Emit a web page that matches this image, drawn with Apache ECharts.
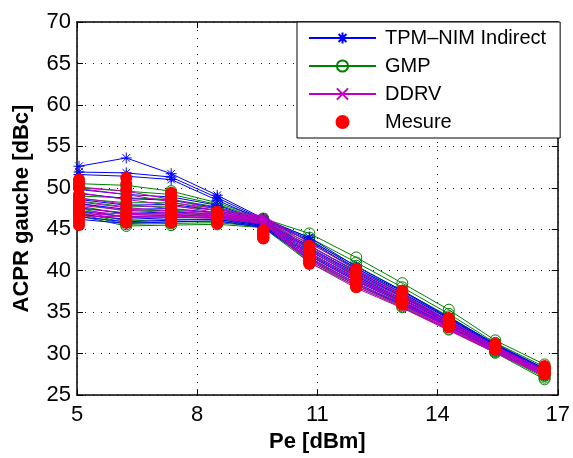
<!DOCTYPE html>
<html>
<head>
<meta charset="utf-8">
<script src="https://cdn.jsdelivr.net/npm/echarts@6/dist/echarts.min.js"></script>
<style>
html,body{margin:0;padding:0;background:#fff;}
#chart{width:573px;height:458px;}
</style>
</head>
<body>
<div id="chart"></div>
<script>
// Input power positions (dBm)
const xPe = [5.05, 6.23, 7.35, 8.5, 9.65, 10.8, 11.97, 13.12, 14.28, 15.44, 16.67];
const xTicks = [5, 8, 11, 14, 17];
const yTicks = [25, 30, 35, 40, 45, 50, 55, 60, 65, 70];

// TPM-NIM Indirect curves
const tpmCurves = [
  [52.6, 53.6, 51.7, 49.1, 46.3, 44.0, 40.5, 37.6, 34.4, 31.2, 28.2],
  [51.9, 51.8, 51.3, 48.8, 46.2, 43.8, 40.3, 37.5, 34.3, 31.1, 28.1],
  [51.6, 51.4, 51.0, 48.5, 46.1, 43.6, 40.1, 37.3, 34.2, 31.0, 28.0],
  [49.8, 49.2, 48.9, 47.9, 46.0, 43.0, 39.9, 37.1, 34.0, 30.9, 27.9],
  [49.3, 48.7, 48.5, 47.6, 45.9, 42.8, 39.7, 36.9, 33.9, 30.8, 27.9],
  [48.6, 47.9, 48.0, 47.3, 45.8, 42.6, 39.5, 36.8, 33.8, 30.8, 27.8],
  [48.1, 47.4, 47.5, 47.0, 45.7, 42.4, 39.3, 36.6, 33.7, 30.7, 27.8],
  [47.6, 46.9, 47.1, 46.8, 45.6, 42.2, 39.1, 36.5, 33.6, 30.7, 27.7],
  [47.2, 46.5, 46.7, 46.6, 45.5, 42.0, 38.9, 36.3, 33.5, 30.6, 27.7],
  [46.8, 46.2, 46.4, 46.4, 45.4, 41.8, 38.7, 36.2, 33.4, 30.6, 27.6],
  [46.5, 45.9, 46.1, 46.2, 45.3, 41.6, 38.5, 36.0, 33.3, 30.5, 27.6],
  [46.2, 45.7, 45.9, 46.0, 45.2, 41.4, 38.3, 35.9, 33.2, 30.5, 27.5]
];

// GMP curves
const gmpCurves = [
  [50.5, 50.3, 49.6, 48.2, 46.3, 44.5, 41.6, 38.5, 35.3, 31.6, 28.7],
  [50.0, 49.6, 49.2, 48.0, 46.2, 44.0, 41.0, 38.0, 34.8, 31.3, 28.4],
  [49.0, 48.8, 48.6, 47.7, 46.1, 43.6, 40.6, 37.6, 34.5, 31.1, 28.2],
  [48.7, 48.2, 48.2, 47.5, 46.0, 43.3, 40.3, 37.3, 34.2, 30.9, 28.0],
  [48.4, 47.7, 47.8, 47.3, 45.9, 43.0, 40.0, 37.0, 34.0, 30.8, 27.8],
  [48.1, 47.2, 47.3, 47.0, 45.8, 42.7, 39.7, 36.8, 33.8, 30.7, 27.7],
  [47.8, 46.8, 46.9, 46.7, 45.7, 42.4, 39.4, 36.6, 33.6, 30.6, 27.6],
  [47.5, 46.4, 46.5, 46.4, 45.6, 42.1, 39.1, 36.3, 33.4, 30.5, 27.5],
  [47.2, 46.0, 46.2, 46.2, 45.5, 41.8, 38.8, 36.1, 33.3, 30.4, 27.4],
  [47.0, 45.8, 45.9, 46.0, 45.4, 41.5, 38.5, 35.9, 33.2, 30.3, 27.3],
  [46.8, 45.6, 45.7, 45.8, 45.3, 41.2, 38.3, 35.7, 33.0, 30.2, 27.1],
  [46.6, 45.4, 45.5, 45.6, 45.2, 41.0, 38.1, 35.6, 32.9, 30.1, 26.9]
];

// DDRV curves
const ddrvCurves = [
  [50.1, 49.6, 48.6, 47.4, 46.6, 43.4, 40.1, 37.2, 34.0, 30.9, 28.0],
  [49.9, 49.2, 48.3, 47.2, 46.5, 43.1, 39.8, 37.0, 33.8, 30.8, 27.9],
  [49.4, 48.6, 47.9, 47.0, 46.4, 42.8, 39.5, 36.8, 33.7, 30.7, 27.8],
  [48.8, 48.0, 47.5, 46.9, 46.3, 42.5, 39.2, 36.6, 33.5, 30.6, 27.7],
  [48.3, 47.6, 47.2, 46.8, 46.2, 42.2, 39.0, 36.4, 33.4, 30.5, 27.6],
  [47.9, 47.3, 47.0, 46.7, 46.1, 41.9, 38.8, 36.2, 33.2, 30.4, 27.5],
  [47.5, 47.0, 46.8, 46.6, 46.0, 41.6, 38.5, 36.0, 33.1, 30.3, 27.4],
  [47.2, 46.8, 46.7, 46.5, 45.9, 41.4, 38.3, 35.8, 33.0, 30.2, 27.4],
  [46.9, 46.6, 46.6, 46.4, 45.8, 41.2, 38.1, 35.6, 32.9, 30.2, 27.3],
  [46.6, 46.5, 46.5, 46.3, 45.7, 41.0, 37.9, 35.5, 32.8, 30.1, 27.3]
];

// Measured curves
const mesureCurves = [
  [51.0, 51.2, 49.4, 47.1, 44.9, 43.0, 40.2, 37.6, 34.3, 31.2, 28.5],
  [50.6, 50.5, 49.0, 46.9, 44.8, 42.8, 39.9, 37.4, 34.1, 31.1, 28.4],
  [50.0, 49.8, 48.6, 46.8, 44.7, 42.5, 39.7, 37.2, 34.0, 31.0, 28.3],
  [49.2, 48.8, 48.1, 46.6, 44.6, 42.3, 39.5, 37.0, 33.9, 30.9, 28.2],
  [48.5, 48.0, 47.6, 46.5, 44.5, 42.1, 39.3, 36.8, 33.8, 30.9, 28.1],
  [48.0, 47.5, 47.2, 46.4, 44.4, 41.9, 39.1, 36.7, 33.7, 30.8, 28.0],
  [47.5, 47.0, 46.9, 46.3, 44.3, 41.7, 38.9, 36.5, 33.6, 30.8, 27.9],
  [47.0, 46.6, 46.6, 46.2, 44.2, 41.5, 38.7, 36.4, 33.5, 30.7, 27.8],
  [46.6, 46.3, 46.3, 46.0, 44.1, 41.3, 38.5, 36.2, 33.4, 30.7, 27.7],
  [46.2, 46.0, 46.1, 45.9, 44.0, 41.1, 38.3, 36.1, 33.3, 30.6, 27.6],
  [45.8, 45.9, 45.9, 45.8, 43.95, 40.9, 38.1, 36.0, 33.25, 30.55, 27.55],
  [45.5, 45.8, 45.8, 45.7, 43.9, 40.8, 38.0, 35.9, 33.2, 30.5, 27.5]
];

const NAME_TPM = 'TPM\u2013NIM Indirect';
const NAME_GMP = 'GMP';
const NAME_DDRV = 'DDRV';
const NAME_MES = 'Mesure';

const FONT = '"Liberation Sans", Arial, Helvetica, sans-serif';
const starPath = 'path://M0,-10L0,10M-10,0L10,0M-7,-7L7,7M-7,7L7,-7';
const xPath = 'path://M0,0L10,10M0,10L10,0';

function toPts(c) { return xPe.map((x, i) => [x, c[i]]); }

const series = [];
tpmCurves.forEach(c => series.push({
  type: 'line', name: NAME_TPM, data: toPts(c), xAxisIndex: 0, yAxisIndex: 0,
  symbol: starPath, symbolSize: 11, showSymbol: true,
  lineStyle: { color: '#0000ff', width: 1 },
  itemStyle: { color: 'rgba(0,0,0,0)', borderColor: '#0000ff', borderWidth: 1 },
  emphasis: { disabled: true }, z: 3
}));
gmpCurves.forEach(c => series.push({
  type: 'line', name: NAME_GMP, data: toPts(c), xAxisIndex: 0, yAxisIndex: 0,
  symbol: 'circle', symbolSize: 11, showSymbol: true,
  lineStyle: { color: '#008000', width: 1 },
  itemStyle: { color: 'rgba(0,0,0,0)', borderColor: '#008000', borderWidth: 1 },
  emphasis: { disabled: true }, z: 2
}));
ddrvCurves.forEach(c => series.push({
  type: 'line', name: NAME_DDRV, data: toPts(c), xAxisIndex: 0, yAxisIndex: 0,
  symbol: xPath, symbolSize: 6, showSymbol: true,
  lineStyle: { color: '#c000c0', width: 1 },
  itemStyle: { color: 'rgba(0,0,0,0)', borderColor: '#c000c0', borderWidth: 1 },
  emphasis: { disabled: true }, z: 4
}));
const mesPts = [];
mesureCurves.forEach(c => c.forEach((v, i) => mesPts.push([xPe[i], v])));
series.push({
  type: 'scatter', name: NAME_MES, data: mesPts, xAxisIndex: 0, yAxisIndex: 0,
  symbol: 'circle', symbolSize: 12,
  itemStyle: { color: '#ff0000', opacity: 1 },
  emphasis: { disabled: true }, z: 5
});

const gridLine = { show: true, lineStyle: { color: '#222', type: [1, 7], width: 1 } };
const chart = echarts.init(document.getElementById('chart'), null, { renderer: 'canvas' });
chart.setOption({
  animation: false,
  backgroundColor: '#fff',
  grid: { left: 77, right: 14, top: 22, bottom: 60, containLabel: false },
  legend: {
    orient: 'vertical', left: 297, top: 22,
    data: [NAME_TPM, NAME_GMP, NAME_DDRV, NAME_MES],
    backgroundColor: '#fff', borderColor: '#000', borderWidth: 1, borderRadius: 0,
    padding: [6, 14, 6, 11], itemWidth: 67, itemHeight: 14, itemGap: 8,
    textStyle: { fontFamily: FONT, fontSize: 20, color: '#000', padding: [0, 0, 0, 4] },
    selectedMode: false
  },
  xAxis: [{
    type: 'value', min: 5, max: 17, interval: 3,
    name: 'Pe [dBm]', nameLocation: 'middle', nameGap: 26,
    nameTextStyle: { fontFamily: FONT, fontSize: 22, fontWeight: 'bold', color: '#000' },
    axisLine: { show: true, lineStyle: { color: '#000', width: 1.5 } },
    axisTick: { show: true, inside: true, length: 6, lineStyle: { color: '#000' } },
    axisLabel: { fontFamily: FONT, fontSize: 22, color: '#000', margin: 9 },
    splitLine: gridLine
  }, {
    type: 'value', min: 5, max: 17, interval: 3, position: 'top',
    axisLine: { show: true, onZero: false, lineStyle: { color: '#000', width: 1.5 } },
    axisTick: { show: true, inside: true, length: 6, lineStyle: { color: '#000' } },
    axisLabel: { show: false }, splitLine: { show: false }
  }],
  yAxis: [{
    type: 'value', min: 25, max: 70, interval: 5,
    name: 'ACPR gauche [dBc]', nameLocation: 'middle', nameGap: 44,
    nameTextStyle: { fontFamily: FONT, fontSize: 22, fontWeight: 'bold', color: '#000' },
    axisLine: { show: true, onZero: false, lineStyle: { color: '#000', width: 1.5 } },
    axisTick: { show: true, inside: true, length: 6, lineStyle: { color: '#000' } },
    axisLabel: { fontFamily: FONT, fontSize: 22, color: '#000', margin: 6 },
    splitLine: gridLine
  }, {
    type: 'value', min: 25, max: 70, interval: 5, position: 'right',
    axisLine: { show: true, onZero: false, lineStyle: { color: '#000', width: 1.5 } },
    axisTick: { show: true, inside: true, length: 6, lineStyle: { color: '#000' } },
    axisLabel: { show: false }, splitLine: { show: false }
  }],
  series: series
});
</script>
</body>
</html>
